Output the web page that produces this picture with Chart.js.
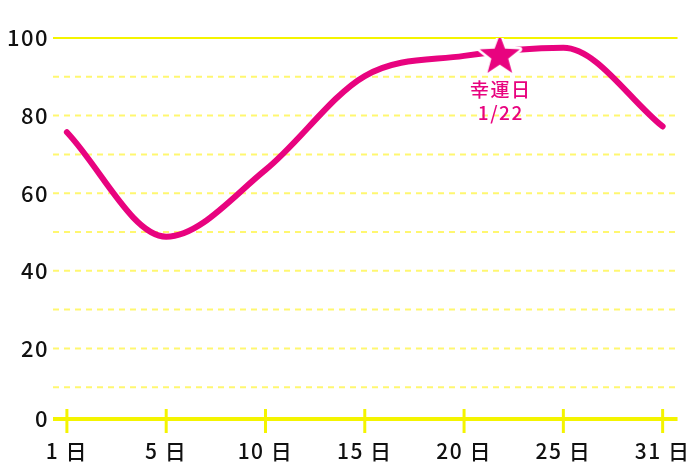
<!DOCTYPE html>
<html><head><meta charset="utf-8">
<script src="https://cdn.jsdelivr.net/npm/chart.js@4"></script>
<style>html,body{margin:0;padding:0;background:#fff;} canvas{display:block}</style>
</head><body>
<canvas id="c" width="700" height="467"></canvas>
<script>
// ---- data ----
const xLabels = ['1 日', '5 日', '10 日', '15 日', '20 日', '25 日', '31 日'];
const fortuneValues = [75.7, 48.8, 66, 90.2, 95.4, 97.5, 77.2];
const yTickValues = [0, 10, 20, 30, 40, 50, 60, 70, 80, 90, 100];
const yLabelStep = 20;
const luckyLabel = '幸運日';
const luckyDate = '1/22';
const luckyPoint = [{ x: 4.36, y: 95.4 }];
const AXIS_VALUE = 1.8;

// ---- style ----
const PINK = '#e8037f';
const YELLOW = '#f4f400';
const YELLOW_LIGHT = '#fff770';
const FONT = "'Noto Sans CJK JP', 'Noto Sans', sans-serif";

function makeStar(R, ratio) {
  const pad = 4;
  const size = Math.ceil(2 * (R + pad));
  const c = document.createElement('canvas');
  c.width = c.height = size;
  const g = c.getContext('2d');
  const cx = size / 2, cy = size / 2;
  g.beginPath();
  for (let i = 0; i < 10; i++) {
    const r = i % 2 ? R * ratio : R;
    const a = -Math.PI / 2 + i * Math.PI / 5;
    g.lineTo(cx + r * Math.cos(a), cy + r * Math.sin(a));
  }
  g.closePath();
  g.lineJoin = 'round';
  g.strokeStyle = '#fff';
  g.lineWidth = 5;
  g.stroke();
  g.fillStyle = PINK;
  g.fill();
  return c;
}
const starImg = makeStar(21, 0.42);

const spacingPlugin = {
  id: 'spacing',
  beforeDraw(chart) { chart.ctx.letterSpacing = '1.5px'; }
};

const gridPlugin = {
  id: 'customGrid',
  beforeDatasetsDraw(chart) {
    const { ctx, chartArea: a, scales: { x, y } } = chart;
    ctx.save();
    y.ticks.forEach(t => {
      if (t.value === AXIS_VALUE) return;
      const py = y.getPixelForValue(t.value);
      if (t.value === 100) { ctx.setLineDash([]); ctx.strokeStyle = YELLOW; }
      else { ctx.setLineDash([6, 5]); ctx.strokeStyle = YELLOW_LIGHT; }
      ctx.lineWidth = 2;
      ctx.beginPath();
      ctx.moveTo(a.left, py);
      ctx.lineTo(a.right, py);
      ctx.stroke();
    });
    const ay = y.getPixelForValue(AXIS_VALUE);
    ctx.setLineDash([]);
    ctx.strokeStyle = YELLOW;
    ctx.lineWidth = 4;
    ctx.beginPath();
    ctx.moveTo(a.left, ay);
    ctx.lineTo(a.right, ay);
    ctx.stroke();
    ctx.lineWidth = 3;
    x.ticks.forEach(t => {
      const px = x.getPixelForValue(t.value);
      ctx.beginPath();
      ctx.moveTo(px, ay - 10);
      ctx.lineTo(px, ay + 14);
      ctx.stroke();
    });
    ctx.restore();
  }
};

const annotPlugin = {
  id: 'annot',
  afterDatasetsDraw(chart) {
    const pt = chart.getDatasetMeta(0).data[0];
    const ctx = chart.ctx;
    ctx.save();
    ctx.fillStyle = PINK;
    ctx.textAlign = 'center';
    ctx.textBaseline = 'middle';
    ctx.font = '500 19px ' + FONT;
    ctx.fillText(luckyLabel, pt.x + 1, pt.y + 34);
    ctx.fillText(luckyDate, pt.x + 1, pt.y + 57);
    ctx.restore();
  }
};

new Chart(document.getElementById('c'), {
  type: 'line',
  data: {
    datasets: [
      {
        data: luckyPoint,
        pointStyle: starImg,
        pointRadius: 21,
        showLine: false,
        order: 0
      },
      {
        data: fortuneValues.map((v, i) => ({ x: i, y: v })),
        borderColor: PINK,
        borderWidth: 6,
        borderCapStyle: 'round',
        borderJoinStyle: 'round',
        cubicInterpolationMode: 'monotone',
        pointRadius: 0,
        fill: false,
        order: 1
      }
    ]
  },
  options: {
    responsive: false,
    animation: false,
    devicePixelRatio: 1,
    events: [],
    plugins: { legend: { display: false }, tooltip: { enabled: false } },
    layout: { padding: { top: 38, right: 21, left: 0, bottom: 0 } },
    scales: {
      x: {
        type: 'linear',
        min: -0.14,
        max: 6.15,
        afterBuildTicks: s => { s.ticks = xLabels.map((_, i) => ({ value: i })); },
        afterFit: s => { s.height = 41; },
        ticks: {
          callback: v => xLabels[v],
          font: { family: FONT, size: 21, weight: '500' },
          color: '#111',
          padding: 12,
          autoSkip: false,
          maxRotation: 0
        },
        grid: { display: false, drawTicks: false },
        border: { display: false }
      },
      y: {
        min: 0,
        max: 100,
        afterBuildTicks: s => { s.ticks = yTickValues.map(v => ({ value: v === 0 ? AXIS_VALUE : v })); },
        afterFit: s => { s.width = 53; },
        ticks: {
          callback: v => v === AXIS_VALUE ? '0' : (v % yLabelStep === 0 ? String(v) : ''),
          font: { family: FONT, size: 22, weight: '500' },
          color: '#111',
          padding: 4,
          autoSkip: false
        },
        grid: { display: false, drawTicks: false },
        border: { display: false }
      }
    }
  },
  plugins: [spacingPlugin, gridPlugin, annotPlugin]
});
</script>
</body></html>
